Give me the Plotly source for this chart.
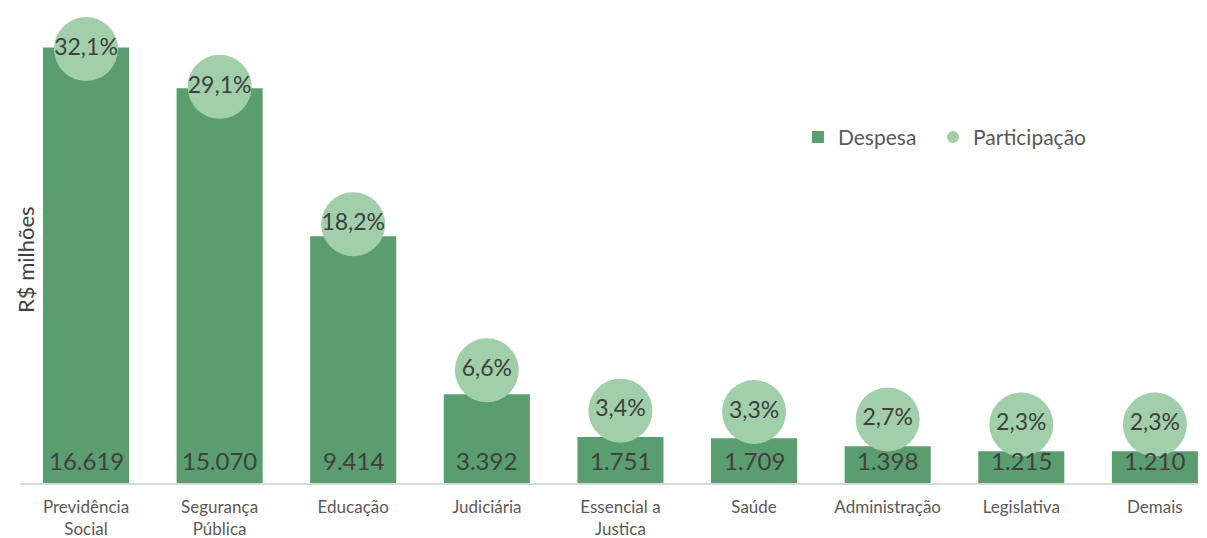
import plotly.graph_objects as go

categories = ["Previdência<br>Social", "Segurança<br>Pública", "Educação", "Judiciária",
              "Essencial a<br>Justica", "Saúde", "Administração", "Legislativa", "Demais"]
despesa = [16619, 15070, 9414, 3392, 1751, 1709, 1398, 1215, 1210]
participacao = [32.1, 29.1, 18.2, 6.6, 3.4, 3.3, 2.7, 2.3, 2.3]

BAR = "#5A9E6F"
DOT = "#A0CFAA"
TXT = "#404040"
FONT = "Lato"

def fmt_int(v):
    return f"{v:,}".replace(",", ".")

def fmt_pct(v):
    return f"{v:.1f}".replace(".", ",") + "%"

x = list(range(len(categories)))

fig = go.Figure()
fig.add_trace(go.Bar(
    x=x, y=despesa, name="Despesa", marker=dict(color=BAR, line=dict(width=0)),
    width=0.644, yaxis="y", hoverinfo="skip", legend="legend"))
fig.add_trace(go.Scatter(
    x=x, y=participacao, name="Participação", mode="markers+text",
    marker=dict(color=DOT, size=64, line=dict(width=0)),
    text=[fmt_pct(v) for v in participacao], textposition="middle center",
    textfont=dict(family=FONT, size=23, color=TXT), yaxis="y2", hoverinfo="skip",
    legend="legend2"))

annotations = []
for xi, v in zip(x, despesa):
    annotations.append(dict(x=xi, y=0, xref="x", yref="y", text=fmt_int(v),
                            showarrow=False, yanchor="middle", yshift=23,
                            font=dict(family=FONT, size=24, color=TXT)))
annotations.append(dict(x=(25 - 20) / 1187, y=(483 - 260) / 473, xref="paper", yref="paper",
                        text="R$ milhões", textangle=-90, showarrow=False,
                        xanchor="center", yanchor="middle",
                        font=dict(family=FONT, size=22, color=TXT)))

legend_common = dict(orientation="h", y=0.731, xanchor="left", yanchor="middle",
                     font=dict(family=FONT, size=21, color="#595959"),
                     itemsizing="constant", bgcolor="rgba(0,0,0,0)")

fig.update_layout(
    width=1199, height=530,
    margin=dict(l=12, r=0, t=2, b=55),
    paper_bgcolor="white", plot_bgcolor="white",
    font=dict(family=FONT, color="#595959"),
    showlegend=True,
    legend=dict(x=0.6554, **legend_common),
    legend2=dict(x=0.7692, **legend_common),
    xaxis=dict(tickmode="array", tickvals=x, ticktext=categories,
               range=[-0.494, 8.39], showline=True, linecolor="#D9D9D9", linewidth=1.5,
               showgrid=False, zeroline=False, ticks="", ticklabelstandoff=8,
               tickfont=dict(family=FONT, size=17, color="#595959")),
    yaxis=dict(range=[0, 18053], showticklabels=False, showgrid=False, zeroline=False,
               showline=False),
    yaxis2=dict(range=[-2.34, 35.2], overlaying="y", side="right", showticklabels=False,
                showgrid=False, zeroline=False, showline=False),
    annotations=annotations,
)

fig.write_html("out.html")
